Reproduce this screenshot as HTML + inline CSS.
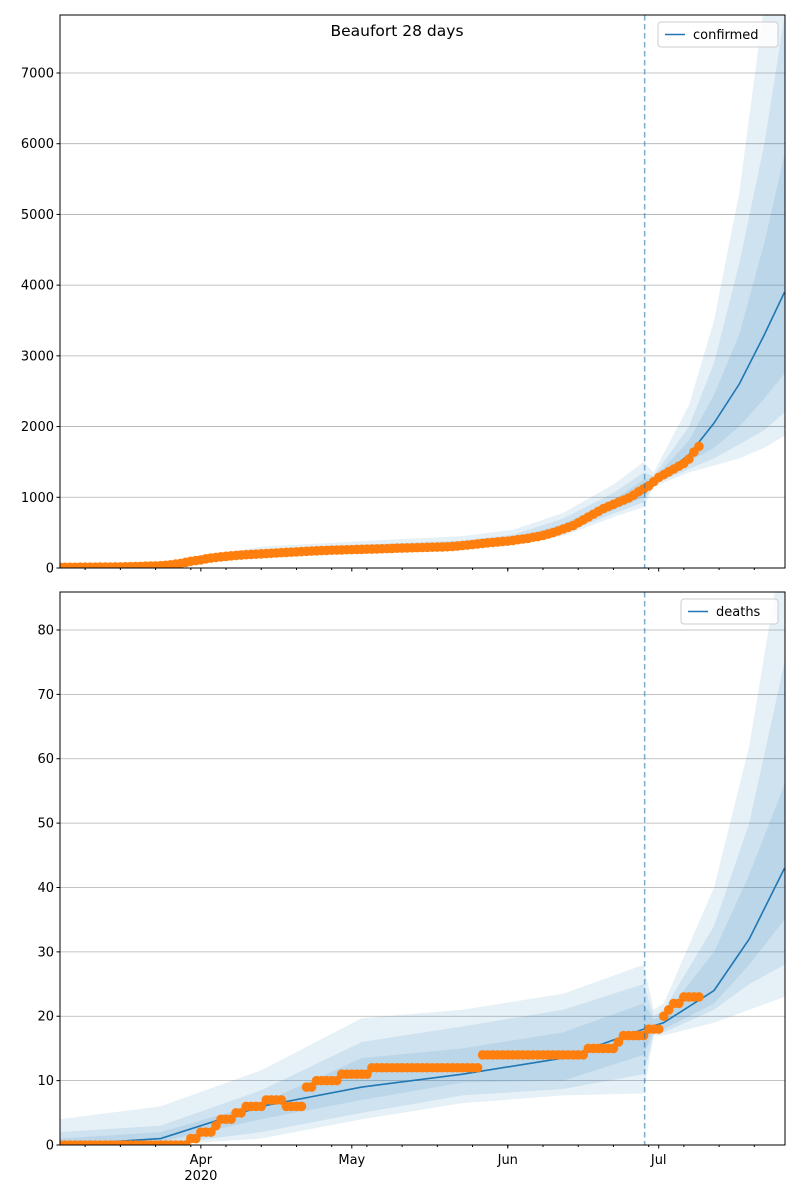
<!DOCTYPE html>
<html><head><meta charset="utf-8"><style>
body{margin:0;background:#fff;font-family:"DejaVu Sans","Liberation Sans",sans-serif}
svg text{font-family:"DejaVu Sans","Liberation Sans",sans-serif}
</style></head><body>
<svg id="chart" width="800" height="1200" xmlns="http://www.w3.org/2000/svg"></svg>
<script>
// day index 0 = Mar 4 2020
const xMajorDays=[28,58,89,119];
const xMajorLabels=[["Apr","2020"],["May"],["Jun"],["Jul"]];
const forecastDay=116.2;
const confTicks=[0,1000,2000,3000,4000,5000,6000,7000];
const deathTicks=[0,10,20,30,40,50,60,70,80];
const confObserved=[10,10,10,10,11,11,12,12,13,13,14,15,16,17,18,20,
22,25,28,30,33,38,45,55,65,80,95,105,
115,130,140,150,158,165,172,178,183,188,192,196,
200,204,208,212,216,220,224,228,232,236,240,243,246,249,252,254,
256,258,260,262,264,266,268,270,272,274,276,280,
282,284,286,288,290,292,294,296,298,300,305,310,
318,325,332,340,348,356,362,368,375,380,390,400,
410,420,435,445,460,480,500,525,550,575,600,640,
680,720,760,800,840,870,900,930,960,990,1030,1080,
1120,1160,1220,1280,1320,1360,1400,1440,1480,1540,1640,1720];
const deathObserved=[0,0,0,0,0,0,0,0,0,0,0,0,0,0,0,0,0,0,0,0,0,0,0,0,0,0,
1,1,2,2,2,3,4,4,4,5,5,6,6,6,6,7,7,7,7,6,6,6,6,9,9,10,10,10,10,10,
11,11,11,11,11,11,12,12,12,12,12,12,12,12,12,12,12,12,12,12,12,12,12,12,12,12,12,12,
14,14,14,14,14,14,14,14,14,14,14,14,14,14,14,14,14,14,14,14,14,
15,15,15,15,15,15,16,17,17,17,17,17,18,18,18,20,21,22,22,23,23,23,23];
const confBandDays=[0,15,28,40,60,80,90,100,110,116,118,125,130,135,140,144];
const confMedian=[10,18,112,200,265,300,390,560,880,1110,1220,1600,2050,2600,3300,3900];
const confLo3=[10,16,100,190,255,285,370,520,820,1000,1200,1500,1700,2000,2400,2750];
const confHi3=[11,20,125,215,285,330,420,620,960,1250,1260,1800,2450,3300,4600,5850];
const confLo2=[9,15,95,185,248,278,360,490,770,930,1180,1400,1550,1750,1950,2200];
const confHi2=[12,22,140,250,330,390,470,700,1060,1350,1300,2000,2900,4300,6000,7800];
const confLo1=[8,14,90,180,240,270,350,450,720,860,1150,1350,1450,1550,1700,1870];
const confHi1=[14,25,170,300,380,450,540,780,1180,1500,1350,2300,3500,5300,8000,9500];
const deathBandDays=[0,20,40,60,80,100,116,118,120,130,137,144];
const deathMedian=[0,1,6,9,11,13.5,18,18.5,19,24,32,43];
const deathLo3=[0,0.5,4,7,9.7,10,14,17.8,18,22,28,35];
const deathHi3=[1,2,6.5,13.5,15,17.5,22,19.5,20,30,42,56];
const deathLo2=[0,0,2,5,7.7,8.7,11,17.3,17.5,21,25,28];
const deathHi2=[2,3,8.5,16,18.4,21,25,20,21,34,50,75];
const deathLo1=[0,0,1,4,6.5,7.7,8,17,17,19,21,23];
const deathHi1=[4,6,11.6,19.7,21,23.5,28,21,22,40,62,95];

const NS="http://www.w3.org/2000/svg";
const svg=document.getElementById('chart');
const X0=60,X1=785,DAYMAX=144.1;
function xs(d){return X0+(d/DAYMAX)*(X1-X0);}
function mk(tag,attrs,parent){const e=document.createElementNS(NS,tag);for(const k in attrs)e.setAttribute(k,attrs[k]);(parent||svg).appendChild(e);return e;}

function panel(o){
  const ys=v=>o.bottom-(v/o.ymax)*(o.bottom-o.top);
  const g=mk('g',{});
  
  
  const clipId='clip-'+o.name;
  const cp=mk('clipPath',{id:clipId},g);
  mk('rect',{x:X0,y:o.top,width:X1-X0,height:o.bottom-o.top},cp);
  // grid
  o.ticks.forEach(t=>{
    const l=mk('line',{x1:X0,x2:X1,y1:ys(t),y2:ys(t),stroke:'#b0b0b0','stroke-width':0.8},g);
    
    
  });
  const plot=mk('g',{'clip-path':'url(#'+clipId+')'},g);
  function band(lo,hi,nm){
    let pts=o.bandDays.map((d,i)=>xs(d)+','+ys(hi[i]));
    for(let i=o.bandDays.length-1;i>=0;i--)pts.push(xs(o.bandDays[i])+','+ys(lo[i]));
    const p=mk('polygon',{points:pts.join(' '),fill:'#1f77b4','fill-opacity':0.11},plot);
    
    
  }
  band(o.lo1,o.hi1,'outer-band');
  band(o.lo2,o.hi2,'middle-band');
  band(o.lo3,o.hi3,'inner-band');
  const ml=mk('polyline',{points:o.bandDays.map((d,i)=>xs(d)+','+ys(o.median[i])).join(' '),fill:'none',stroke:'#1f77b4','stroke-width':1.6},plot);
  
  
  o.obs.forEach((v,i)=>{
    const c=mk('circle',{cx:xs(i),cy:ys(v),r:4.8,fill:'#ff7f0e'},plot);
    
    
  });
  const dl=mk('line',{x1:xs(forecastDay),x2:xs(forecastDay),y1:o.top,y2:o.bottom,stroke:'#1f77b4','stroke-opacity':0.6,'stroke-width':1.5,'stroke-dasharray':'5.5,3.5'},g);
  
  
  // frame
  const fr=mk('rect',{x:X0,y:o.top,width:X1-X0,height:o.bottom-o.top,fill:'none',stroke:'#000','stroke-width':1},g);
  
  
  // y ticks
  o.ticks.forEach(t=>{
    mk('line',{x1:X0-3.5,x2:X0,y1:ys(t),y2:ys(t),stroke:'#000'},g);
    const tx=mk('text',{x:X0-6,y:ys(t)+4.5,'text-anchor':'end','font-size':13},g);
    tx.textContent=t;
    
    
  });
  // x ticks
  for(let d=5;d<=144;d+=7) mk('line',{x1:xs(d),x2:xs(d),y1:o.bottom,y2:o.bottom+2,stroke:'#000'},g);
  xMajorDays.forEach((d,i)=>{
    mk('line',{x1:xs(d),x2:xs(d),y1:o.bottom,y2:o.bottom+3.5,stroke:'#000'},g);
    if(o.labels){
      xMajorLabels[i].forEach((s,j)=>{
        const tx=mk('text',{x:xs(d),y:o.bottom+19+j*16,'text-anchor':'middle','font-size':13},g);
        tx.textContent=s;
        
        
      });
    }
  });
  // legend
  const lg=mk('g',{},g);
  
  
  mk('rect',{x:o.legX,y:o.top+7,width:X1-7-o.legX,height:25,rx:3,fill:'#fff','fill-opacity':0.8,stroke:'#ccc'},lg);
  mk('line',{x1:o.legX+7,x2:o.legX+27,y1:o.top+19.5,y2:o.top+19.5,stroke:'#1f77b4','stroke-width':1.6},lg);
  const lt=mk('text',{x:o.legX+35,y:o.top+24,'font-size':13},lg);
  lt.textContent=o.name;
}
panel({name:'confirmed',top:15,bottom:568,ymax:7820,ticks:confTicks,obs:confObserved,bandDays:confBandDays,median:confMedian,
 lo1:confLo1,hi1:confHi1,lo2:confLo2,hi2:confHi2,lo3:confLo3,hi3:confHi3,labels:false,legX:658});
panel({name:'deaths',top:592,bottom:1145,ymax:85.9,ticks:deathTicks,obs:deathObserved,bandDays:deathBandDays,median:deathMedian,
 lo1:deathLo1,hi1:deathHi1,lo2:deathLo2,hi2:deathHi2,lo3:deathLo3,hi3:deathHi3,labels:true,legX:681});
const title=mk('text',{x:397,y:36,'text-anchor':'middle','font-size':15.5});
title.textContent='Beaufort 28 days';


</script>
</body></html>
